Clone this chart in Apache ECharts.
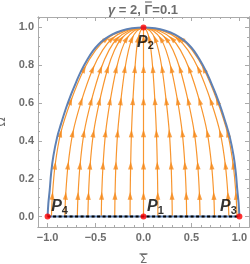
<!DOCTYPE html>
<html><head><meta charset="utf-8">
<script src="https://cdn.jsdelivr.net/npm/echarts@6/dist/echarts.min.js"></script>
<style>html,body{margin:0;padding:0;background:#fff}#c{width:250px;height:264px}</style>
</head><body><div id="c"></div>
<script>
const titleGamma = '\u03B3';
const titleRest1 = ' = 2, ';
const titleGammaBig = '\u0393';
const titleRest2 = '=0.1';
const xName = '\u03A3';
const yName = '\u03A9';
const xMajorTicks = [-1, -0.5, 0, 0.5, 1];
const xMinorTicks = [-0.9,-0.8,-0.7,-0.6,-0.4,-0.3,-0.2,-0.1,0.1,0.2,0.3,0.4,0.6,0.7,0.8,0.9];
const yMajorTicks = [0, 0.2, 0.4, 0.6, 0.8, 1.0];
const yMinorTicks = [0.05,0.1,0.15,0.25,0.3,0.35,0.45,0.5,0.55,0.65,0.7,0.75,0.85,0.9,0.95,1.05];

// boundary curve (blue)
const boundarySigma = [-1,-0.992,-0.978,-0.963,-0.94,-0.9,-0.86,-0.81,-0.755,-0.703,-0.65,-0.585,-0.527,-0.47,-0.405,-0.33,-0.23,-0.12,0,
                       0.12,0.23,0.33,0.405,0.47,0.527,0.585,0.65,0.703,0.755,0.81,0.86,0.9,0.94,0.963,0.978,0.992,1];
const boundaryOmega = [0,0.07,0.14,0.23,0.32,0.42,0.49,0.57,0.646,0.71,0.77,0.83,0.876,0.91,0.938,0.962,0.982,0.995,1,
                       0.995,0.982,0.962,0.938,0.91,0.876,0.83,0.77,0.71,0.646,0.57,0.49,0.42,0.32,0.23,0.14,0.07,0];

// streamlines: shared Omega levels, Sigma per line
const streamOmega = [0, 0.11, 0.27, 0.44, 0.61, 0.78, 0.88, 0.94, 0.98, 1];
const streamL1 = [-0.96,-0.950,-0.922,-0.864,-0.758,-0.619,-0.499,-0.384,-0.226,0];
const streamL2 = [-0.82,-0.812,-0.787,-0.738,-0.648,-0.529,-0.426,-0.328,-0.193,0];
const streamL3 = [-0.69,-0.683,-0.662,-0.621,-0.545,-0.445,-0.359,-0.276,-0.162,0];
const streamL4 = [-0.58,-0.574,-0.557,-0.522,-0.458,-0.374,-0.302,-0.232,-0.136,0];
const streamL5 = [-0.44,-0.436,-0.422,-0.396,-0.348,-0.284,-0.229,-0.176,-0.103,0];
const streamL6 = [-0.30,-0.297,-0.288,-0.270,-0.237,-0.194,-0.156,-0.120,-0.071,0];
const streamL7 = [-0.14,-0.139,-0.134,-0.126,-0.111,-0.090,-0.073,-0.056,-0.033,0];
const streamC  = [0,0,0,0,0,0,0,0,0,0];
const streamR1 = [0.15,0.149,0.144,0.135,0.119,0.097,0.078,0.060,0.035,0];
const streamR2 = [0.30,0.297,0.288,0.270,0.237,0.194,0.156,0.120,0.071,0];
const streamR3 = [0.45,0.446,0.432,0.405,0.356,0.290,0.234,0.180,0.106,0];
const streamR4 = [0.59,0.584,0.566,0.531,0.466,0.381,0.307,0.236,0.139,0];
const streamR5 = [0.74,0.733,0.710,0.666,0.585,0.477,0.385,0.296,0.174,0];
const streamR6 = [0.89,0.881,0.854,0.801,0.703,0.574,0.463,0.356,0.209,0];
const streamR7 = [0.975,0.965,0.936,0.877,0.770,0.629,0.507,0.390,0.229,0];
const streams = [streamL1,streamL2,streamL3,streamL4,streamL5,streamL6,streamL7,streamC,streamR1,streamR2,streamR3,streamR4,streamR5,streamR6,streamR7];
const arrowIdx = [1,2,3,4,5,7];

// fixed points
const pointNames = ['1','2','3','4'];
const pointSigma = [0, 0, 1, -1];
const pointOmega = [0, 1, 0, 0];
const pointLabelOffset = [[12,-10],[2,15],[-11,-10],[12,-10]];

const X_MIN = -1.1, X_MAX = 1.1, Y_MIN = -0.055, Y_MAX = 1.055;
const G = {left: 38, right: 1, top: 17, bottom: 37};
const W = 250, H = 264;
const sx = (W - G.left - G.right) / (X_MAX - X_MIN);
const sy = (H - G.top - G.bottom) / (Y_MAX - Y_MIN);

const gray = '#aaaaaa';
const labelColor = '#6e6e6e';
const fmt = v => (v < 0 ? '\u2212' : '') + Math.abs(v).toFixed(1);
const nameRich = {
  bar:{width:8, height:1.2, backgroundColor:labelColor, lineHeight:2, align:'center'},
  t:{fontSize:12, fontFamily:'DejaVu Sans', color:labelColor, lineHeight:10, align:'center'}
};

// title layout: measure text pieces so an overbar can sit over Gamma
const fGam = 'italic bold 13px "Liberation Sans"';
const fTxt = 'bold 13px "Liberation Sans"';
const ctx = document.createElement('canvas').getContext('2d');
ctx.font = fGam; const w1 = ctx.measureText(titleGamma).width;
ctx.font = fTxt; const w2 = ctx.measureText(titleRest1).width;
const w3 = ctx.measureText(titleGammaBig).width;
const w4 = ctx.measureText(titleRest2).width;
const titleW = w1 + w2 + w3 + w4;

function xAx(pos, ticks, len, labels) {
  return {type:'value', min:X_MIN, max:X_MAX, position:pos,
    axisLine:{show:true, onZero:false, lineStyle:{color:gray, width:1}},
    axisTick:{show:true, inside:true, length:len, customValues:ticks, lineStyle:{color:gray}},
    axisLabel:{show:labels, customValues:ticks, formatter:fmt, color:labelColor, fontSize:11, fontWeight:'bold', fontFamily:'Liberation Sans', margin:5},
    splitLine:{show:false},
    name: labels ? '{bar|}\n{t|' + xName + '}' : '', nameLocation:'middle', nameGap:20,
    nameTextStyle:{rich:nameRich}};
}
function yAx(pos, ticks, len, labels) {
  return {type:'value', min:Y_MIN, max:Y_MAX, position:pos,
    axisLine:{show:true, onZero:false, lineStyle:{color:gray, width:1}},
    axisTick:{show:true, inside:true, length:len, customValues:ticks, lineStyle:{color:gray}},
    axisLabel:{show:labels, customValues:ticks, formatter:fmt, color:labelColor, fontSize:11, fontWeight:'bold', fontFamily:'Liberation Sans', margin:4},
    splitLine:{show:false},
    name: labels ? '{bar|}\n{t|' + yName + '}' : '', nameLocation:'middle', nameGap:25,
    nameTextStyle:{rich:nameRich}};
}

const series = [];
streams.forEach(s => {
  series.push({type:'line', data:s.map((v,i)=>[v, streamOmega[i]]), smooth:0.3, showSymbol:false,
    lineStyle:{color:'#f8962f', width:1.2}, z:2, silent:true});
});
const arrowData = [];
streams.forEach(s => {
  arrowIdx.forEach(i => {
    const dx = (s[i+1]-s[i-1])*sx, dy = (streamOmega[i+1]-streamOmega[i-1])*sy;
    const rot = Math.atan2(dy, dx)*180/Math.PI - 90;
    arrowData.push({value:[s[i], streamOmega[i]], symbolRotate:rot});
  });
});
series.push({type:'scatter', data:arrowData, symbol:'triangle', symbolSize:[5,8],
  itemStyle:{color:'#f5891c'}, z:3, silent:true});
series.push({type:'line', data:boundarySigma.map((v,i)=>[v, boundaryOmega[i]]), smooth:0.4, showSymbol:false,
  lineStyle:{color:'#5e81b5', width:2}, z:4, silent:true});
series.push({type:'line', data:[[-1,0],[1,0]], showSymbol:false,
  lineStyle:{color:'#5e81b5', width:2}, z:4, silent:true});
series.push({type:'line', data:[[-1,0],[1,0]], showSymbol:false,
  lineStyle:{color:'#000', width:2, type:[3,2.5]}, z:5, silent:true});
series.push({type:'scatter', symbolSize:6, itemStyle:{color:'#ff0000'}, z:6, silent:true,
  data: pointNames.map((n,i)=>({value:[pointSigma[i], pointOmega[i]],
    label:{show:true, position:'inside', offset:pointLabelOffset[i], formatter:'{p|P}{s|'+n+'}',
      rich:{p:{fontSize:16, fontWeight:'bold', fontStyle:'italic', fontFamily:'Liberation Sans', color:'#000', lineHeight:18},
            s:{fontSize:11, fontWeight:'bold', fontFamily:'Liberation Sans', color:'#000', padding:[8,0,0,0], lineHeight:18}}}}))});

const chart = echarts.init(document.getElementById('c'), null, {renderer:'canvas'});
chart.setOption({
  animation:false,
  backgroundColor:'#fff',
  title:{text:'{sp|}{bar|}\n{i|' + titleGamma + '}{n|' + titleRest1 + '}{n|' + titleGammaBig + '}{n|' + titleRest2 + '}',
    left: Math.round(143 - titleW/2), top:1, textAlign:'left', padding:0,
    textStyle:{rich:{
      sp:{width: w1 + w2 + 0.5, height:1, lineHeight:2},
      bar:{width: w3 - 1, height:1.2, backgroundColor:labelColor, lineHeight:2},
      i:{color:labelColor, fontSize:13, fontStyle:'italic', fontWeight:'bold', fontFamily:'Liberation Sans', lineHeight:14},
      n:{color:labelColor, fontSize:13, fontWeight:'bold', fontFamily:'Liberation Sans', lineHeight:14}}}},
  grid:{left:G.left, right:G.right, top:G.top, bottom:G.bottom, containLabel:false, outerBoundsMode:'none'},
  xAxis:[xAx('bottom', xMajorTicks, 4, true), xAx('bottom', xMinorTicks, 2, false), xAx('top', xMajorTicks, 4, false), xAx('top', xMinorTicks, 2, false)],
  yAxis:[yAx('left', yMajorTicks, 4, true), yAx('left', yMinorTicks, 2, false), yAx('right', yMajorTicks, 4, false), yAx('right', yMinorTicks, 2, false)],
  series: series
});
</script>
</body></html>
